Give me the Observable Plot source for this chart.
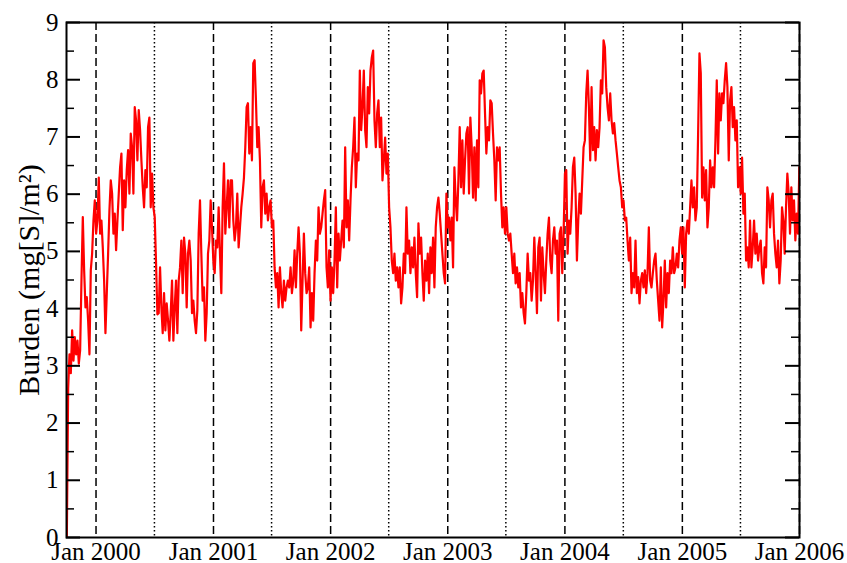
<!DOCTYPE html>
<html>
<head>
<meta charset="utf-8">
<script src="https://cdn.jsdelivr.net/npm/d3@7"></script>
<script src="https://cdn.jsdelivr.net/npm/@observablehq/plot@0.6"></script>
<style>
  html, body { margin: 0; padding: 0; background: #fff; }
  #chart svg { display: block; }
</style>
</head>
<body>
<div id="chart"></div>
<script>
// Sampling grid of the record (roughly every 4 days)
const seriesStart = "1999-10-02";
const stepDays = 4.15;

// Burden values, mg[S]/m², in time order
const burdenOct1999toMay2000 = [0.0,2.6,3.2,2.87,3.62,3.09,3.5,3.2,3.44,3.04,3.27,4.5,5.6,4.67,4.02,4.2,3.79,3.2,4.67,4.96,5.54,5.89,5.31,5.54,6.29,5.31,5.54,5.07,4.49,3.57,4.27,4.96,5.72,6.24,6.01,5.31,5.66,5.02,5.54,6.01,6.47,6.71,5.37,6.24,5.77,6.42,6.77,6.01,7.06,6.82,6.01,7.52,7.29,6.59,7.47,7.12,6.59,6.12,5.77,6.42,6.12,7.17,7.34,5.77,6.36,5.77,5.6,4.79,3.9,3.92,4.72,4.02,3.57,4.27,3.62,4.09,3.79,3.44,3.92,4.49,3.44,4.02,4.49,3.57,4.49,4.72,5.19,4.27,5.24,4.96,4.02,4.96,5.19];
const burden2000to2001 = [4.84,3.92,4.14,3.79,3.57,3.97,5.31,5.89,4.96,4.14,4.37,3.44,3.92,4.96,5.19,5.89,5.42,4.84,4.62,5.19,5.07,5.77,4.96,4.27,5.77,6.54,5.31,5.77,6.24,5.42,6.24,6.24,5.54,5.19,5.42,6.01,5.07,5.42,5.77,6.01,6.29,6.82,7.52,7.59,6.71,7.17,6.59,8.29,8.34,7.64,6.82,7.17,6.59,5.42,6.12,6.24,5.66,6.01,5.54,5.77,5.89,5.42,5.54,4.72,4.37,4.62,4.02,4.72,4.27,4.02,4.49,4.14,4.37,4.49,4.37,4.72,4.27,4.49,5.02,4.37,4.96,5.42,4.96,3.62,4.49,5.31,4.62,4.27,4.37,4.72,3.67,4.27,3.79,4.62];
const burden2001to2003 = [5.19,4.84,5.77,5.31,5.42,5.66,5.89,6.07,4.72,4.37,5.02,4.14,4.72,4.27,4.84,5.77,4.37,5.31,4.84,5.19,5.54,5.07,6.82,5.42,5.89,5.19,5.89,6.47,6.82,7.34,6.12,6.71,6.59,8.16,7.12,7.52,8.16,7.12,6.82,7.87,7.41,8.16,8.39,8.51,7.29,6.82,7.41,7.64,6.82,7.34,6.24,6.59,6.99,6.36,6.71,5.77,5.42,4.84,4.62,4.96,4.49,4.72,4.37,4.72,4.09,4.37,4.96,4.62,5.77,4.96,5.19,4.62,5.07,4.72,5.24,4.62,4.2,5.49,4.96,5.24,4.62,4.14,4.84,4.49,4.96,4.27,5.07,4.62,5.24,4.37,5.42,5.77,5.94];
const burden2003to2004 = [5.66,5.31,4.96,4.62,4.44,6.01,5.42,5.59,5.19,5.59,4.72,6.47,5.89,5.54,6.24,7.17,6.12,6.94,6.01,6.59,7.06,7.17,6.01,7.34,6.82,5.94,6.82,5.89,6.94,6.12,7.99,7.76,8.11,8.16,7.41,6.71,7.17,6.94,7.64,7.59,7.06,6.59,5.89,6.82,6.59,6.82,6.01,5.42,5.77,5.31,5.77,5.31,5.19,5.31,4.96,4.62,4.96,4.44,4.72,4.37,4.62,4.02,4.27,3.92,3.74,4.27,4.96,4.49,4.62,4.14,4.49,5.24,4.62,3.92,5.07,5.24,4.14,5.07,4.62,4.27,4.84,5.31,5.59,4.84,4.62,5.19,5.42,4.96,5.19,3.79,5.31,5.42,4.62,5.31];
const burden2004to2005 = [6.36,6.42,4.96,5.54,5.31,5.77,6.47,6.64,6.01,4.84,5.54,6.01,5.66,6.24,6.82,6.94,7.76,8.16,7.52,6.59,7.87,6.77,7.17,6.59,7.12,6.82,7.17,7.99,7.76,8.69,8.57,7.87,7.52,7.29,7.76,7.29,7.06,7.24,6.94,6.71,6.47,6.24,6.12,5.77,5.89,5.54,5.59,5.19,4.84,5.24,4.27,4.62,4.37,5.19,4.27,4.55,4.09,4.49,4.62,4.37,4.67,4.27,4.62,5.42,4.49,4.37,4.62,4.84,4.96,4.49,4.14,3.79,4.72,3.67,4.14,4.84,4.02,4.62,4.27,4.84,4.62,5.07,4.62,4.72,4.96,4.72,5.19,5.42,4.96,5.42,4.37,5.31,5.54,5.31];
const burden2005to2006 = [5.77,6.24,5.77,6.12,5.54,5.77,7.06,8.46,8.11,5.94,6.47,5.89,6.42,5.42,5.77,6.59,6.12,6.47,6.12,6.94,7.99,6.71,7.76,7.29,7.76,7.59,7.99,8.29,7.87,6.59,7.64,7.87,7.17,7.52,6.94,7.29,6.12,6.47,6.01,6.64,5.66,6.01,4.84,5.07,4.72,5.54,4.72,5.07,5.54,4.96,5.31,4.84,5.07,5.19,4.62,4.44,5.07,4.72,6.12,5.89,5.42,5.89,6.01,5.31,4.96,4.72,5.19,4.44,4.84,5.77,5.54,4.96,5.77,6.36,6.01,5.31,6.12,5.54,5.89,5.19,5.66,5.31,6.47];

// Axes
const xDomain = ["1999-10-01", "2006-01-01"];
const janDates = ["2000-01-01","2001-01-01","2002-01-01","2003-01-01","2004-01-01","2005-01-01","2006-01-01"];
const janLabels = ["Jan 2000","Jan 2001","Jan 2002","Jan 2003","Jan 2004","Jan 2005","Jan 2006"];
const julDates = ["2000-07-01","2001-07-01","2002-07-01","2003-07-01","2004-07-01","2005-07-01"];
const yMajor = [0,1,2,3,4,5,6,7,8,9];
const yMinor = [0.5,1.5,2.5,3.5,4.5,5.5,6.5,7.5,8.5];
const yLabel = "Burden (mg[S]/m²)";

const values = [].concat(burdenOct1999toMay2000, burden2000to2001, burden2001to2003,
                         burden2003to2004, burden2004to2005, burden2005to2006);
const t0 = new Date(seriesStart + "T00:00:00Z").getTime();
const data = values.map((v, i) => ({date: new Date(t0 + i * stepDays * 86400000), value: v}));
const toDate = s => new Date(s + "T00:00:00Z");

const W = 847, H = 563, mL = 66, mR = 48, mT = 22, mB = 26;
const plotW = W - mL - mR;
const majorLen = 14, minorLen = 8;

const chart = Plot.plot({
  width: W, height: H,
  marginLeft: mL, marginRight: mR, marginTop: mT, marginBottom: mB,
  x: {type: "utc", domain: xDomain.map(toDate)},
  y: {domain: [0, 9]},
  style: {fontFamily: "'Liberation Serif', 'Times New Roman', serif", fontSize: "25px", background: "#fff", color: "#000", overflow: "visible"},
  marks: [
    Plot.ruleX(janDates.map(toDate), {stroke: "#000", strokeWidth: 1.5, strokeDasharray: "8,4"}),
    Plot.ruleX(julDates.map(toDate), {stroke: "#000", strokeWidth: 1.5, strokeDasharray: "1.5,2.5"}),
    Plot.line(data, {x: "date", y: "value", stroke: "#ff0000", strokeWidth: 2.2, clip: true}),
    // inward ticks, left and right
    Plot.tickY(yMajor, {y: d => d, stroke: "#000", strokeWidth: 2, insetRight: plotW - majorLen}),
    Plot.tickY(yMinor, {y: d => d, stroke: "#000", strokeWidth: 1.5, insetRight: plotW - minorLen}),
    Plot.tickY(yMajor, {y: d => d, stroke: "#000", strokeWidth: 2, insetLeft: plotW - majorLen}),
    Plot.tickY(yMinor, {y: d => d, stroke: "#000", strokeWidth: 1.5, insetLeft: plotW - minorLen}),
    Plot.axisY({ticks: yMajor, tickSize: 0, tickPadding: 8, label: null, fontSize: 25, tickFormat: d => String(d)}),
    Plot.axisX({ticks: janDates.map(toDate), tickSize: 0, tickPadding: 5, label: null, fontSize: 25,
      tickFormat: d => janLabels[janDates.indexOf(d.toISOString().slice(0, 10))]}),
    Plot.text([yLabel], {frameAnchor: "left", textAnchor: "middle", dx: -37, rotate: -90, fontSize: 30, text: d => d}),
    Plot.frame({stroke: "#000", strokeWidth: 2})
  ]
});
document.getElementById("chart").appendChild(chart);
</script>
</body>
</html>
